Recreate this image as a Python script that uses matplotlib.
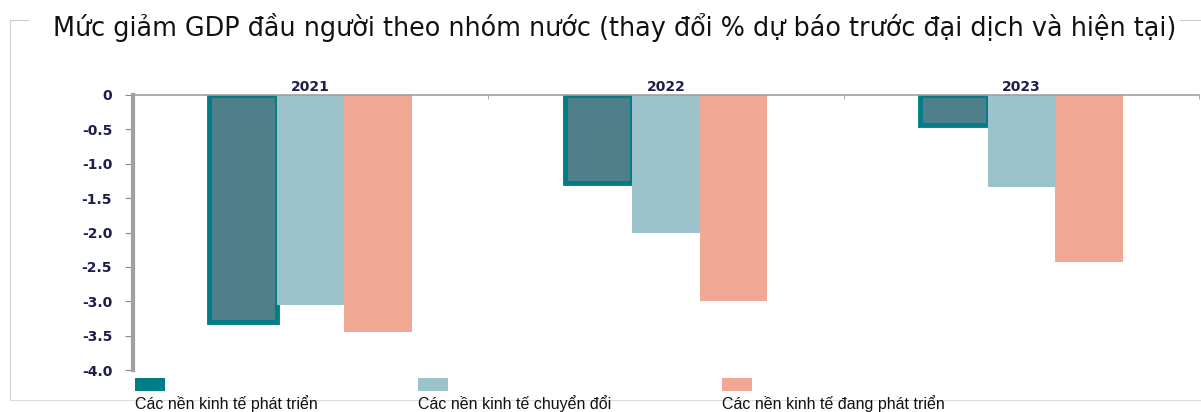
import numpy as np
import matplotlib
matplotlib.use("Agg")
import matplotlib.pyplot as plt
from matplotlib.patches import Rectangle

# data
years = ['2021', '2022', '2023']
series_names = ['Các nền kinh tế phát triển',
                'Các nền kinh tế chuyển đổi',
                'Các nền kinh tế đang phát triển']
developed = [-3.30, -1.28, -0.43]
transition = [-3.05, -2.00, -1.34]
developing = [-3.45, -3.00, -2.43]
yticks = [0, -0.5, -1.0, -1.5, -2.0, -2.5, -3.0, -3.5, -4.0]
ytick_labels = ['0', '-0.5', '-1.0', '-1.5', '-2.0', '-2.5', '-3.0', '-3.5', '-4.0']

face_cols = ['#4f7f88', '#9cc2cb', '#f0a793']
edge_cols = ['#007d86', '#9cc2cb', '#f0a793']
navy = '#1b1f4a'

fig = plt.figure(figsize=(12.01, 4.12), dpi=100)
ax = fig.add_axes([133/1201, 1-370/412, 1066/1201, 275/412])

x = np.arange(len(years))
w = 0.19
for i, vals in enumerate([developed, transition, developing]):
    lw = 3.5 if i == 0 else 0
    ax.bar(x + (i-1)*w, vals, w, color=face_cols[i], edgecolor=edge_cols[i],
           linewidth=lw, zorder=2)

ax.set_xlim(-0.5, 2.5)
ax.set_ylim(-4.0, 0)
ax.set_yticks(yticks)
ax.set_yticklabels(ytick_labels, fontsize=10, fontweight='bold', color=navy,
                   family='DejaVu Sans')
ax.tick_params(axis='y', length=6, color='#888888', pad=9)

ax.xaxis.tick_top()
ax.set_xticks(x)
ax.set_xticklabels(years, fontsize=10, fontweight='bold', color=navy,
                   family='DejaVu Sans')
ax.tick_params(axis='x', length=0, pad=1)
ax.set_xticks([0.5, 1.5, 2.5], minor=True)
ax.tick_params(axis='x', which='minor', length=3, color='#999999', direction='in')

for s in ['right', 'bottom']:
    ax.spines[s].set_visible(False)
ax.spines['top'].set_color('#a0a0a0')
ax.spines['top'].set_linewidth(1.2)
ax.spines['left'].set_color('#a0a0a0')
ax.spines['left'].set_linewidth(3)

fig.text(53/1201, 1-27/412,
         'Mức giảm GDP đầu người theo nhóm nước (thay đổi % dự báo trước đại dịch và hiện tại)',
         fontsize=18.4, family='DejaVu Sans', color='#111111', va='center', ha='left')

# legend: square above, label below
leg_x = [135, 418, 722]
for i, name in enumerate(series_names):
    fig.add_artist(Rectangle((leg_x[i]/1201, 1-391/412), 30/1201, 13/412,
                             transform=fig.transFigure, facecolor=edge_cols[i] if i == 0 else face_cols[i],
                             edgecolor='none'))
    fig.text(leg_x[i]/1201, 1-404/412, name, fontsize=11.5,
             family='Liberation Sans', color='#111111',
             va='center', ha='left')

# thin outer frame
fig.add_artist(plt.Line2D([10/1201, 10/1201], [1-400/412, 1-20/412],
                          transform=fig.transFigure, color='#cccccc', lw=0.8))
fig.add_artist(plt.Line2D([10/1201, 1], [1-400/412, 1-400/412],
                          transform=fig.transFigure, color='#dddddd', lw=0.8))
fig.add_artist(plt.Line2D([10/1201, 28/1201], [1-20/412, 1-20/412],
                          transform=fig.transFigure, color='#cccccc', lw=0.8))
fig.add_artist(plt.Line2D([1180/1201, 1], [1-20/412, 1-20/412],
                          transform=fig.transFigure, color='#cccccc', lw=0.8))

fig.savefig('out.png', dpi=100)
